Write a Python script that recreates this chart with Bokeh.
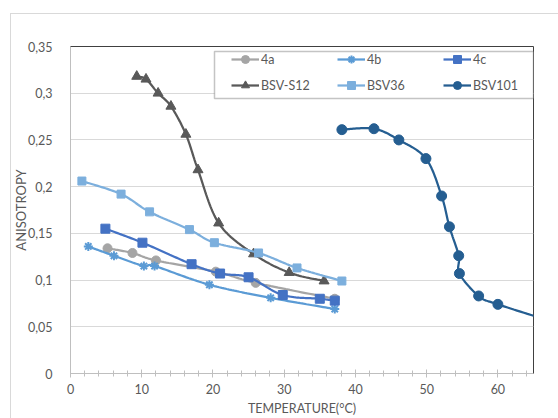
import numpy as np
from bokeh.plotting import figure
from bokeh.models import (Range1d, Legend, LegendItem, SingleIntervalTicker, FixedTicker,
                          CustomJSTickFormatter, BoxAnnotation, InlineStyleSheet)
from bokeh.embed import file_html
from bokeh.resources import INLINE

# ---- data ----
x_4a = [5.2, 8.7, 12.0, 20.4, 26.0, 37.1]
y_4a = [0.134, 0.129, 0.121, 0.109, 0.097, 0.080]

x_4b = [2.5, 6.1, 10.3, 11.8, 19.5, 28.1, 37.1]
y_4b = [0.136, 0.126, 0.115, 0.115, 0.095, 0.081, 0.069]

x_4c = [4.9, 10.1, 17.0, 21.0, 25.0, 29.8, 35.0, 37.1]
y_4c = [0.155, 0.140, 0.117, 0.107, 0.103, 0.084, 0.080, 0.078]

x_s12 = [9.3, 10.6, 12.3, 14.1, 16.2, 17.9, 20.8, 25.7, 30.7, 35.6]
y_s12 = [0.318, 0.315, 0.300, 0.286, 0.256, 0.218, 0.161, 0.128, 0.108, 0.099]

x_36 = [1.6, 7.1, 11.1, 16.7, 20.2, 26.4, 31.8, 38.1]
y_36 = [0.206, 0.192, 0.173, 0.154, 0.140, 0.129, 0.113, 0.099]

x_101 = [38.1, 42.6, 46.1, 49.9, 52.1, 53.2, 54.5, 54.6, 57.3, 60.0, 70.0]
y_101 = [0.261, 0.262, 0.250, 0.230, 0.190, 0.157, 0.126, 0.107, 0.083, 0.074, 0.050]

series_names = ["4a", "4b", "4c", "BSV-S12", "BSV36", "BSV101"]
y_ticks = [0, 0.05, 0.1, 0.15, 0.2, 0.25, 0.3, 0.35]


def smooth(xs, ys, n=24):
    """Excel-style smoothed line (uniform Catmull-Rom through the data points)."""
    px = list(xs)
    py = list(ys)
    m = len(px)
    ox, oy = [], []
    for i in range(m - 1):
        i0 = max(i - 1, 0)
        i3 = min(i + 2, m - 1)
        x0, x1, x2, x3 = px[i0], px[i], px[i + 1], px[i3]
        y0, y1, y2, y3 = py[i0], py[i], py[i + 1], py[i3]
        for t in np.linspace(0, 1, n, endpoint=False):
            t2, t3 = t * t, t * t * t
            ox.append(0.5 * (2 * x1 + (-x0 + x2) * t + (2 * x0 - 5 * x1 + 4 * x2 - x3) * t2
                             + (-x0 + 3 * x1 - 3 * x2 + x3) * t3))
            oy.append(0.5 * (2 * y1 + (-y0 + y2) * t + (2 * y0 - 5 * y1 + 4 * y2 - y3) * t2
                             + (-y0 + 3 * y1 - 3 * y2 + y3) * t3))
    ox.append(px[-1])
    oy.append(py[-1])
    return ox, oy


FONT = "Lato"
TXT = "#595959"

p = figure(width=558, height=418, output_backend="svg", toolbar_location=None,
           x_range=Range1d(0, 65), y_range=Range1d(0, 0.35),
           min_border_left=70, min_border_right=25, min_border_top=46, min_border_bottom=44)
p.background_fill_color = "white"
p.border_fill_color = "white"
p.outline_line_color = "#404040"
p.outline_line_width = 1

# outer chart border (top/left edges visible in the picture)
p.stylesheets = [InlineStyleSheet(css="""
:host { position: relative; }
:host::after { content: ''; position: absolute; left: 10px; top: 13px; right: 0; bottom: 0;
  border-top: 1px solid #D9D9D9; border-left: 1px solid #D9D9D9; pointer-events: none; }
""")]

# grid
p.xgrid.visible = False
p.ygrid.grid_line_color = "#D9D9D9"
p.ygrid.grid_line_width = 1

# x axis
p.xaxis.ticker = SingleIntervalTicker(interval=10, num_minor_ticks=5)
p.xaxis.axis_line_color = "#BFBFBF"
p.xaxis.major_tick_line_color = "#BFBFBF"
p.xaxis.minor_tick_line_color = "#BFBFBF"
p.xaxis.major_tick_in = 4
p.xaxis.major_tick_out = 4
p.xaxis.minor_tick_in = 3
p.xaxis.minor_tick_out = 3
p.xaxis.major_label_standoff = 6
p.xaxis.major_label_text_font = FONT
p.xaxis.major_label_text_font_size = "12.5px"
p.xaxis.major_label_text_color = TXT
p.xaxis.axis_label = "TEMPERATURE(°C)"
p.xaxis.axis_label_standoff = 4
p.xaxis.axis_label_text_font = FONT
p.xaxis.axis_label_text_font_size = "12.5px"
p.xaxis.axis_label_text_font_style = "normal"
p.xaxis.axis_label_text_color = TXT

# y axis
p.yaxis.ticker = FixedTicker(ticks=y_ticks)
p.yaxis.formatter = CustomJSTickFormatter(code="""
    let s = tick.toFixed(2);
    s = s.replace(/0+$/, '').replace(/\\.$/, '');
    return s.replace('.', ',');
""")
p.yaxis.axis_line_color = "#BFBFBF"
p.yaxis.major_tick_line_color = None
p.yaxis.minor_tick_line_color = None
p.yaxis.major_label_standoff = 12
p.yaxis.major_label_text_font = FONT
p.yaxis.major_label_text_font_size = "12.5px"
p.yaxis.major_label_text_color = TXT
p.yaxis.axis_label = "ANISOTROPY"
p.yaxis.axis_label_standoff = -4
p.yaxis.axis_label_text_font = FONT
p.yaxis.axis_label_text_font_size = "13px"
p.yaxis.axis_label_text_font_style = "normal"
p.yaxis.axis_label_text_color = TXT

# series
spec = [
    (x_4a, y_4a, "#A5A5A5", "circle", 9),
    (x_4b, y_4b, "#5B9BD5", "asterisk", 9),
    (x_4c, y_4c, "#4472C4", "square", 9),
    (x_s12, y_s12, "#595959", "triangle", 10),
    (x_36, y_36, "#7CAFDD", "square", 8),
    (x_101, y_101, "#255E91", "circle", 10),
]
items = []
for name, (xs, ys, col, mk, sz) in zip(series_names, spec):
    sx, sy = smooth(xs, ys)
    r1 = p.line(sx, sy, line_color=col, line_width=2.25)
    if mk == "asterisk":
        r2 = p.scatter(xs, ys, marker=mk, size=sz, line_color=col, line_width=2)
    else:
        r2 = p.scatter(xs, ys, marker=mk, size=sz, fill_color=col, line_color=col)
    items.append(LegendItem(label=name, renderers=[r1, r2]))

# legend box (drawn separately to match the Excel padding)
p.add_layout(BoxAnnotation(left=214, right=533, top=51, bottom=98,
                           left_units="canvas", right_units="canvas",
                           top_units="canvas", bottom_units="canvas",
                           fill_color="white", fill_alpha=1,
                           line_color="#3A3A3A", line_width=1.5))

legend = Legend(items=items, location=(161, 278), orientation="horizontal",
                ncols=3, nrows=2, padding=0, margin=0, spacing=6,
                glyph_width=28, glyph_height=20, label_height=20,
                label_width=70, label_standoff=2,
                label_text_font=FONT, label_text_font_size="12.5px",
                label_text_color=TXT,
                border_line_color=None, background_fill_alpha=0)
p.add_layout(legend)

open("out.html", "w").write(file_html(p, INLINE))
